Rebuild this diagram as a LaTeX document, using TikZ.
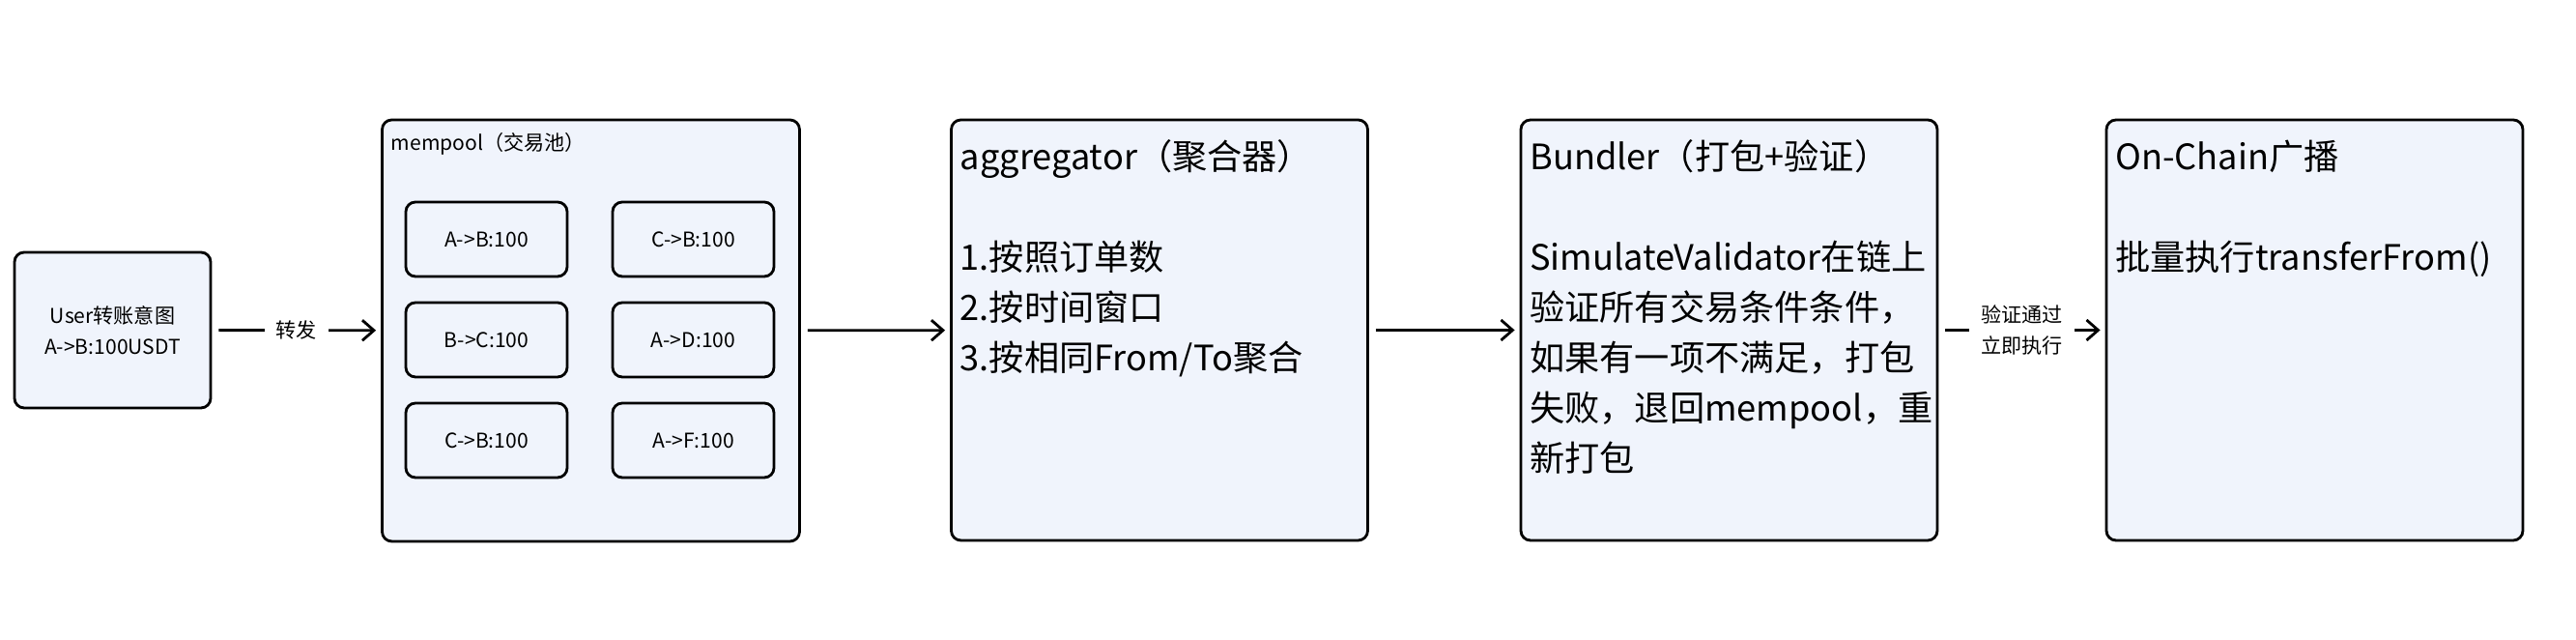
\documentclass[tikz,border=0pt]{standalone}
\usepackage{fontspec}
\setmainfont{Noto Sans CJK SC}
\usetikzlibrary{arrows.meta}

\definecolor{boxfill}{RGB}{240,244,252}
\tikzset{
  box/.style={draw, line width=.8pt, rounded corners=1mm, fill=boxfill, inner sep=0pt},
  stage/.style={box, minimum width=4.31cm, minimum height=4.35cm},
  small/.style={font=\fontsize{6pt}{9.2pt}\selectfont, align=center},
  tx/.style={box, small, minimum width=1.67cm, minimum height=.77cm},
  txt/.style={font=\fontsize{10.3pt}{14.8pt}\selectfont, align=left, text width=4.15cm, inner sep=0pt, anchor=base west},
  flow/.style={-{Straight Barb[length=1.2mm,width=2.1mm]}, line width=.8pt, shorten <=.07cm, shorten >=.05cm},
  lbl/.style={small, fill=white, inner xsep=.12cm, inner ysep=.02cm}
}

\begin{document}
\begin{tikzpicture}
\fill[white] (0,0) rectangle (26.66,6.62);

\node[box, small, minimum width=2.03cm, minimum height=1.61cm] (user) at (1.165,3.205) {User转账意图\\A->B:100USDT};

\node[box, minimum width=4.32cm, minimum height=4.36cm] (pool) at (6.115,3.2) {};
\node[small, anchor=west, inner sep=0pt] (poolname) at ([shift={(.1,-.26)}]pool.north west) {mempool（交易池）};
\node[tx] (tx1) at (5.035,4.145) {A->B:100};
\node[tx] (tx2) at (7.175,4.145) {C->B:100};
\node[tx] (tx3) at (5.035,3.105) {B->C:100};
\node[tx] (tx4) at (7.175,3.105) {A->D:100};
\node[tx] (tx5) at (5.035,2.065) {C->B:100};
\node[tx] (tx6) at (7.175,2.065) {A->F:100};

\node[stage] (aggr) at (12,3.205) {};
\node[txt] (aggrtext) at ([shift={(.1,-.525)}]aggr.north west) {aggregator（聚合器）\\[14.8pt]1.按照订单数\\2.按时间窗口\\3.按相同From/To聚合};

\node[stage] (bundler) at (17.895,3.205) {};
\node[txt] (bundlertext) at ([shift={(.1,-.525)}]bundler.north west) {Bundler（打包+验证）\\[14.8pt]SimulateValidator在链上\\验证所有交易条件条件，\\如果有一项不满足，打包\\失败，退回mempool，重\\新打包};

\node[stage] (chain) at (23.955,3.205) {};
\node[txt] (chaintext) at ([shift={(.1,-.525)}]chain.north west) {On-Chain广播\\[14.8pt]批量执行transferFrom()};

% connectors
\draw[flow] (user) -- node[lbl] {转发} (pool);
\draw[flow] (pool) -- (aggr);
\draw[flow] (aggr) -- (bundler);
\draw[flow] (bundler) -- node[lbl] {验证通过\\立即执行} (chain);
\end{tikzpicture}
\end{document}
